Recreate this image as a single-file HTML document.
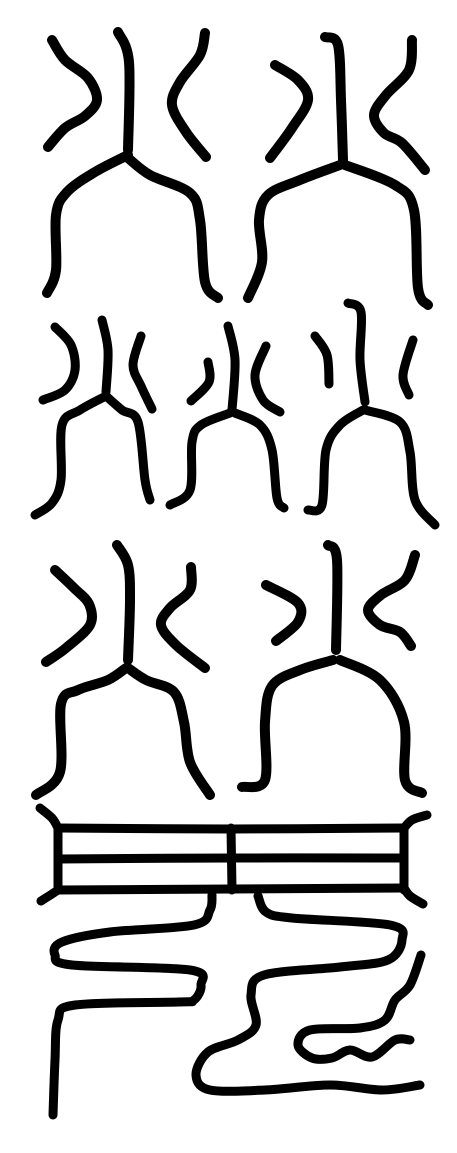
<!DOCTYPE html>
<html>
<head>
<meta charset="utf-8">
<style>
html,body{margin:0;padding:0;background:#fff;}
svg{display:block;}
path{fill:none;stroke:#000;stroke-linecap:round;stroke-linejoin:round;}
</style>
</head>
<body>
<svg id="art" width="457" height="1153" viewBox="0 0 457 1153">
<rect width="457" height="1153" fill="#fff"/>
<g stroke-width="10">
  <path data-pts="52,40 65,60 88,78 97,100 85,116 65,128 48,147"/>
  <path data-pts="118,32 129,62 128,150"/>
  <path data-pts="128,155 95,172 67,192 56,215 56,270 47,293"/>
  <path data-pts="128,158 150,175 190,193 200,220 205,282 218,298"/>
  <path data-pts="205,33 200,55 180,82 172,105 186,132 206,157"/>
  <path data-pts="275,65 298,80 308,100 292,128 270,158"/>
  <path data-pts="325,37 338,45 341,100 343,160"/>
  <path data-pts="340,165 300,180 268,195 259,220 262,262 248,298"/>
  <path data-pts="345,165 395,185 414,210 418,288 428,305"/>
  <path data-pts="412,40 409,70 386,95 374,115 384,133 402,143 425,170"/>
</g>
<g stroke-width="9">
  <path data-pts="55,327 71,345 75,370 65,390 43,400"/>
  <path data-pts="102,320 108,350 106,392"/>
  <path data-pts="106,396 80,410 62,425 61,480 52,503 35,515"/>
  <path data-pts="106,396 122,410 138,422 145,480 150,500"/>
  <path data-pts="141,336 133,365 141,386 152,409"/>
  <path data-pts="208,362 209,382 191,401"/>
  <path data-pts="228,326 235,360 232,410"/>
  <path data-pts="230,413 201,425 192,442 190,490 170,505"/>
  <path data-pts="235,413 260,425 272,450 277,498 284,508"/>
  <path data-pts="266,346 255,375 263,400 280,412"/>
  <path data-pts="315,336 327,355 329,384"/>
  <path data-pts="348,303 361,312 360,360 365,402"/>
  <path data-pts="363,410 340,425 326,450 322,505 308,510"/>
  <path data-pts="365,410 400,422 410,452 415,500 435,525"/>
  <path data-pts="413,340 403,375 409,395"/>
</g>
<g stroke-width="10">
  <path data-pts="55,570 74,588 89,604 90,625 66,648 46,662"/>
  <path data-pts="117,545 128,565 130,600 128,660"/>
  <path data-pts="126,668 108,680 78,690 61,704 60,772 36,795"/>
  <path data-pts="128,668 146,680 174,692 184,722 190,762 210,795"/>
  <path data-pts="191,567 190,590 170,608 161,625 176,645 205,668"/>
  <path data-pts="266,585 298,603 298,622 276,641"/>
  <path data-pts="328,545 337,560 336,650"/>
  <path data-pts="333,660 300,670 272,686 265,722 265,780 242,787"/>
  <path data-pts="340,660 380,680 404,722 405,780 422,793"/>
  <path data-pts="415,555 405,580 381,595 368,610 380,625 400,632 411,646"/>
</g>
<g stroke-width="9">
  <path data-pts="58,828 232,829 404,828"/>
  <path data-pts="58,859 232,858 404,858"/>
  <path data-pts="58,890 232,889 404,888"/>
  <path data-pts="58,828 58,890"/>
  <path data-pts="231,828 232,890"/>
  <path data-pts="404,828 404,890"/>
  <path data-pts="40,808 52,818 58,828"/>
  <path data-pts="41,901 52,894 58,890"/>
  <path data-pts="427,815 412,820 404,828"/>
  <path data-pts="423,904 410,896 404,888"/>
  <path data-pts="212,895 210,910 194,925 110,932 62,942 55,955 72,965 190,970 201,985 194,1000 178,1002 75,1005 58,1020 55,1060 53,1115"/>
  <path data-pts="258,896 266,912 292,918 390,925 402,940 388,960 340,967 264,975 251,995 256,1025 238,1040 208,1052 196,1075 210,1090 265,1090 330,1085 382,1090 420,1085"/>
  <path data-pts="421,955 410,985 395,1000 385,1020 360,1028 310,1030 298,1045 312,1058 332,1058 350,1050 372,1057 395,1040 410,1040"/>
</g>
</svg>
<script>
var paths = document.querySelectorAll('#art path[data-pts]');
paths.forEach(function(p){
  var pts = p.getAttribute('data-pts').trim().split(/\s+/).map(function(s){return s.split(',').map(Number);});
  var d = 'M' + pts[0][0] + ',' + pts[0][1];
  for (var i = 0; i < pts.length - 1; i++) {
    var p0 = pts[i-1] || pts[i], p1 = pts[i], p2 = pts[i+1], p3 = pts[i+2] || p2;
    var c1x = p1[0] + (p2[0]-p0[0])/6, c1y = p1[1] + (p2[1]-p0[1])/6;
    var c2x = p2[0] - (p3[0]-p1[0])/6, c2y = p2[1] - (p3[1]-p1[1])/6;
    d += ' C' + c1x.toFixed(1) + ',' + c1y.toFixed(1) + ' ' + c2x.toFixed(1) + ',' + c2y.toFixed(1) + ' ' + p2[0] + ',' + p2[1];
  }
  p.setAttribute('d', d);
});
</script>
</body>
</html>
